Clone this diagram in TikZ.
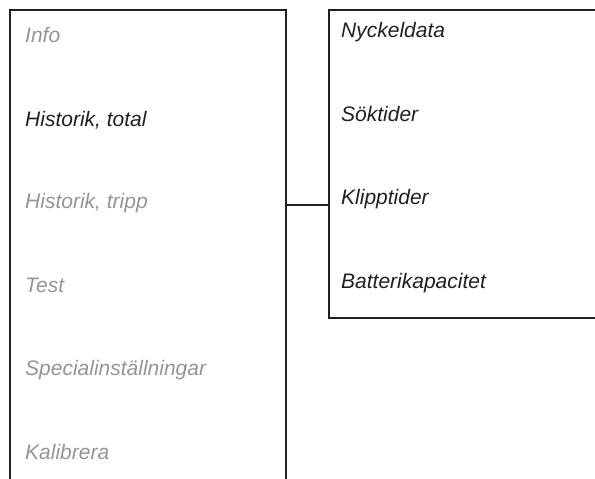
\documentclass[tikz,border=0pt]{standalone}
\usepackage{fontspec}
\setmainfont{Liberation Sans}
\definecolor{ink}{HTML}{231F20}
\definecolor{dim}{HTML}{939598}
\begin{document}
\begin{tikzpicture}[x=1pt,y=-1pt,
  frame/.style={draw=ink,line width=2pt,fill=none,inner sep=0pt,outer sep=0pt},
  item/.style={anchor=base west,inner sep=0pt,font=\fontsize{21}{25}\selectfont\itshape},
  active/.style={item,text=ink},
  inactive/.style={item,text=dim}]
  \useasboundingbox (0,0) rectangle (595,479);
  % main menu column, running off the bottom edge
  \node[frame,minimum width=276pt,minimum height=520pt,anchor=north west] (menu) at (10,10) {};
  % submenu panel, running off the right edge
  \node[frame,minimum width=300pt,minimum height=308pt,anchor=north west] (sub) at (329,10) {};
  \coordinate (tap) at (286,205);
  \draw[ink,line width=2pt] (tap) -- (tap -| sub.west);

  \node[inactive] (info) at (25,42) {Info};
  \node[active] (histtot) at (25,126) {Historik, total};
  \node[inactive] (histtrip) at (25,208) {Historik, tripp};
  \node[inactive] (test) at (25,292) {Test};
  \node[inactive] (special) at (25,375) {Specialinställningar};
  \node[inactive] (kal) at (25,459) {Kalibrera};

  \node[active] (nyckel) at (341,37) {Nyckeldata};
  \node[active] (sok) at (341,121) {Söktider};
  \node[active] (klipp) at (341,204) {Klipptider};
  \node[active] (batt) at (341,288) {Batterikapacitet};
\end{tikzpicture}
\end{document}
